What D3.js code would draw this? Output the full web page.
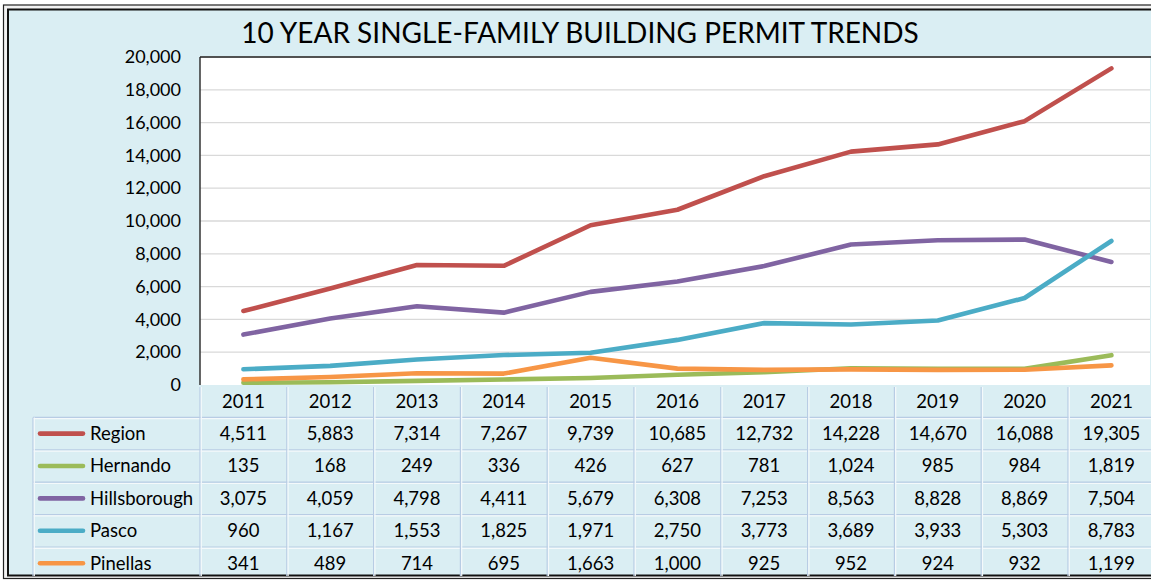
<!DOCTYPE html>
<html><head><meta charset="utf-8">
<script src="https://cdn.jsdelivr.net/npm/d3@7"></script>
<style>html,body{margin:0;padding:0;background:#fff;}svg{display:block;}</style>
</head><body>
<svg id="c" width="1151" height="580"></svg>
<script>
const years = ["2011","2012","2013","2014","2015","2016","2017","2018","2019","2020","2021"];
const seriesNames = ["Region","Hernando","Hillsborough","Pasco","Pinellas"];
const region = [4511,5883,7314,7267,9739,10685,12732,14228,14670,16088,19305];
const hernando = [135,168,249,336,426,627,781,1024,985,984,1819];
const hillsborough = [3075,4059,4798,4411,5679,6308,7253,8563,8828,8869,7504];
const pasco = [960,1167,1553,1825,1971,2750,3773,3689,3933,5303,8783];
const pinellas = [341,489,714,695,1663,1000,925,952,924,932,1199];
const seriesColors = ["#c0504d","#9bbb59","#8064a2","#4bacc6","#f79646"];
const yTicks = [0,2000,4000,6000,8000,10000,12000,14000,16000,18000,20000];
const title = "10 YEAR SINGLE-FAMILY BUILDING PERMIT TRENDS";

const seriesValues = [region, hernando, hillsborough, pasco, pinellas];
const series = seriesNames.map((n,i)=>({name:n, values:seriesValues[i], color:seriesColors[i]}));

const svg = d3.select("#c");
const font = "Lato, 'Open Sans', sans-serif";
const bg = "#daeef3";

// frame
svg.append("rect").attr("x",0).attr("y",0).attr("width",1151).attr("height",580).attr("fill","#fff");
svg.append("rect").attr("x",3.5).attr("y",5).attr("width",1160).attr("height",573.5)
  .attr("fill","#f2f2f2").attr("stroke","#222").attr("stroke-width",1.2);
svg.append("rect").attr("x",8).attr("y",9.5).attr("width",1160).attr("height",566)
  .attr("fill",bg).attr("stroke","#111").attr("stroke-width",2);

const plotL = 200, plotT = 57, plotB = 385, colW = 86.8;
const plotR = 1150;
const x = d3.scaleBand().domain(years).range([plotL, plotL + colW*years.length]).padding(0);
const cx = d => x(d) + x.bandwidth()/2;
const y = d3.scaleLinear().domain([0,20000]).range([plotB, plotT]);

// plot area
svg.append("rect").attr("x",plotL).attr("y",plotT).attr("width",plotR-plotL).attr("height",plotB-plotT).attr("fill","#fff");
// gridlines
svg.append("g").selectAll("line").data(yTicks.filter(t=>t>0)).join("line")
  .attr("x1",plotL).attr("x2",plotR).attr("y1",d=>y(d)).attr("y2",d=>y(d))
  .attr("stroke","#d9d9d9").attr("stroke-width",1.3);

// y axis
const yAxis = d3.axisLeft(y).tickValues(yTicks).tickSize(0).tickPadding(19).tickFormat(d3.format(","));
const ga = svg.append("g").attr("transform",`translate(${plotL},0)`).call(yAxis);
ga.select(".domain").remove();
ga.selectAll("text").attr("font-family",font).attr("font-size",18).attr("fill","#000");

// plot borders (left & top)
svg.append("line").attr("x1",plotL).attr("x2",plotL).attr("y1",plotT).attr("y2",plotB).attr("stroke","#333").attr("stroke-width",1.5);
svg.append("line").attr("x1",plotL).attr("x2",plotR+2).attr("y1",plotT).attr("y2",plotT).attr("stroke","#222").attr("stroke-width",1.5);

// lines
const line = d3.line().x((d,i)=>cx(years[i])).y(d=>y(d));
svg.append("g").selectAll("path").data(series).join("path")
  .attr("d",d=>line(d.values)).attr("fill","none").attr("stroke",d=>d.color)
  .attr("stroke-width",4.6).attr("stroke-linejoin","round").attr("stroke-linecap","round");

// title
svg.append("text").attr("x",580).attr("y",42.5).attr("text-anchor","middle")
  .attr("font-family",font).attr("font-size",28).attr("fill","#000").text(title);

// data table
const rowH = 32.4, headT = plotB, legL = 33;
const tbl = svg.append("g");
const tableR = plotL + colW*years.length;
// horizontal lines
const hy = d3.range(1, seriesNames.length+1).map(k=>headT + rowH*k);
hy.forEach(v=>{
  tbl.append("line").attr("x1",legL).attr("x2",tableR).attr("y1",v).attr("y2",v).attr("stroke","#b8cce4").attr("stroke-width",1.2);
  tbl.append("line").attr("x1",legL).attr("x2",tableR).attr("y1",v+1.3).attr("y2",v+1.3).attr("stroke","#f4f9fb").attr("stroke-width",1.2);
});
// vertical lines
const vx = years.map(d=>x(d)).concat([tableR]);
vx.slice(1).forEach(v=>{
  tbl.append("line").attr("x1",v).attr("x2",v).attr("y1",headT+2).attr("y2",576).attr("stroke","#b8cce4").attr("stroke-width",1.2);
  tbl.append("line").attr("x1",v+1.3).attr("x2",v+1.3).attr("y1",headT+2).attr("y2",576).attr("stroke","#f4f9fb").attr("stroke-width",1.2);
});
tbl.append("line").attr("x1",plotL).attr("x2",plotL).attr("y1",headT+2).attr("y2",576).attr("stroke","#b8cce4").attr("stroke-width",1.2);
tbl.append("line").attr("x1",plotL+1.3).attr("x2",plotL+1.3).attr("y1",headT+2).attr("y2",576).attr("stroke","#f4f9fb").attr("stroke-width",1.2);
tbl.append("line").attr("x1",legL).attr("x2",legL).attr("y1",headT+rowH).attr("y2",576).attr("stroke","#b8cce4").attr("stroke-width",1.2);
tbl.append("line").attr("x1",legL+1.3).attr("x2",legL+1.3).attr("y1",headT+rowH).attr("y2",576).attr("stroke","#f4f9fb").attr("stroke-width",1.2);

const fs = 18.5;
// header years
tbl.selectAll("text.yr").data(years).join("text").attr("class","yr")
  .attr("x",d=>cx(d)).attr("y",headT+rowH/2).attr("dy","0.35em").attr("text-anchor","middle")
  .attr("font-family",font).attr("font-size",fs).attr("fill","#000").text(d=>d);

const fmt = d3.format(",");
series.forEach((s,i)=>{
  const ry = headT + rowH*(i+1) + rowH/2;
  tbl.append("line").attr("x1",40).attr("x2",83).attr("y1",ry).attr("y2",ry)
    .attr("stroke",s.color).attr("stroke-width",4.6).attr("stroke-linecap","round");
  tbl.append("text").attr("x",90).attr("y",ry).attr("dy","0.35em")
    .attr("font-family",font).attr("font-size",fs).attr("fill","#000").text(s.name);
  tbl.selectAll(null).data(s.values).join("text")
    .attr("x",(d,j)=>cx(years[j])).attr("y",ry).attr("dy","0.35em").attr("text-anchor","middle")
    .attr("font-family",font).attr("font-size",fs).attr("fill","#000").text(d=>fmt(d));
});
</script>
</body></html>
